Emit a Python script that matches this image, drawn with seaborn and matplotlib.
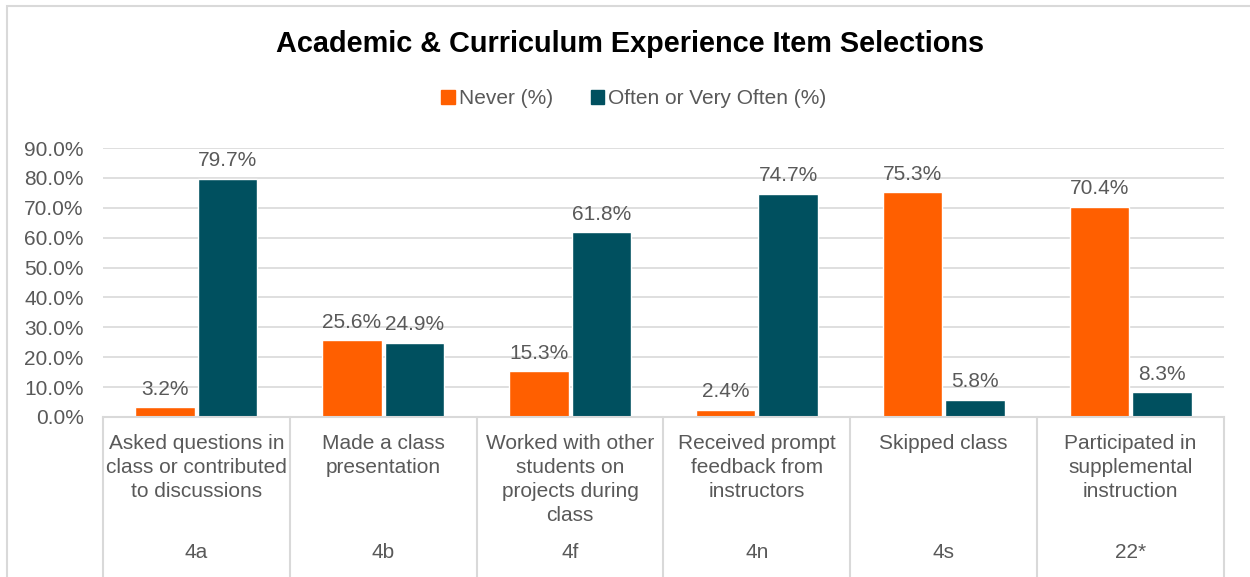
import pandas as pd
import matplotlib.pyplot as plt
import seaborn as sns
from matplotlib.lines import Line2D
from matplotlib.patches import Rectangle

# Data
items = ['Asked questions in\nclass or contributed\nto discussions',
         'Made a class\npresentation',
         'Worked with other\nstudents on\nprojects during\nclass',
         'Received prompt\nfeedback from\ninstructors',
         'Skipped class',
         'Participated in\nsupplemental\ninstruction']
codes = ['4a', '4b', '4f', '4n', '4s', '22*']
never = [3.2, 25.6, 15.3, 2.4, 75.3, 70.4]
often = [79.7, 24.9, 61.8, 74.7, 5.8, 8.3]
series = ['Never (%)', 'Often or Very Often (%)']
colors = ['#FF5F00', '#00505F']

df = pd.DataFrame({
    'item': items * 2,
    'series': [series[0]] * len(items) + [series[1]] * len(items),
    'value': never + often,
})

sns.set_style('white')
plt.rcParams['font.family'] = ['Liberation Sans', 'DejaVu Sans']
grey = '#595959'
fs = 15

fig = plt.figure(figsize=(12.5, 5.77), dpi=100)
ax = fig.add_axes([103 / 1250, 1 - 417 / 577, 1121 / 1250, (417 - 148) / 577])

sns.barplot(data=df, x='item', y='value', hue='series', order=items,
            hue_order=series, palette=colors, width=0.67, gap=0.05,
            saturation=1, ax=ax, legend=False)

ax.set_ylim(0, 90)
ax.set_yticks(range(0, 91, 10))
ax.set_yticklabels([f'{v:.1f}%' for v in range(0, 91, 10)], fontsize=fs, color=grey)
ax.yaxis.grid(True, color='#D9D9D9', lw=1.2)
ax.set_axisbelow(True)
ax.set_xlabel('')
ax.set_ylabel('')
for s in ['top', 'right', 'left']:
    ax.spines[s].set_visible(False)
ax.spines['bottom'].set_color('#D9D9D9')
ax.spines['bottom'].set_linewidth(1.5)
ax.tick_params(axis='y', length=0, pad=14)
ax.tick_params(axis='x', length=0, pad=12)
ax.set_xticks(range(len(items)))
ax.set_xticklabels(items, fontsize=fs, color=grey, va='top', linespacing=1.33)

# value labels
for cont in ax.containers:
    ax.bar_label(cont, fmt='%.1f%%', padding=6, fontsize=fs, color=grey)

# group codes and separators
trans = ax.get_xaxis_transform()
for i, c in enumerate(codes):
    ax.text(i, -0.505, c, transform=trans, ha='center', va='center', fontsize=fs, color=grey)
for k in range(len(items) + 1):
    ax.add_line(Line2D([k - 0.5, k - 0.5], [0, -0.7], transform=trans, color='#D9D9D9',
                       lw=1.5, clip_on=False))
ax.set_xlim(-0.5, len(items) - 0.5)

# title and legend
fig.text(630 / 1250, 1 - 44 / 577, 'Academic & Curriculum Experience Item Selections',
         ha='center', va='center', fontsize=20.8, fontweight='bold', color='black')
handles = [Rectangle((0, 0), 1, 1, color=c) for c in colors]
fig.legend(handles, series, loc='center', bbox_to_anchor=(634 / 1250, 1 - 99 / 577), ncol=2,
           frameon=False, fontsize=fs, labelcolor=grey, handlelength=0.65,
           handleheight=0.65, handletextpad=0.2, columnspacing=1.8)

# chart border
fig.patches.append(Rectangle((6.5 / 1250, -0.1), 1.2, 1.1 - 6.5 / 577, transform=fig.transFigure,
                             fill=False, edgecolor='#D9D9D9', lw=1.5))

fig.savefig('out.png', dpi=100)
